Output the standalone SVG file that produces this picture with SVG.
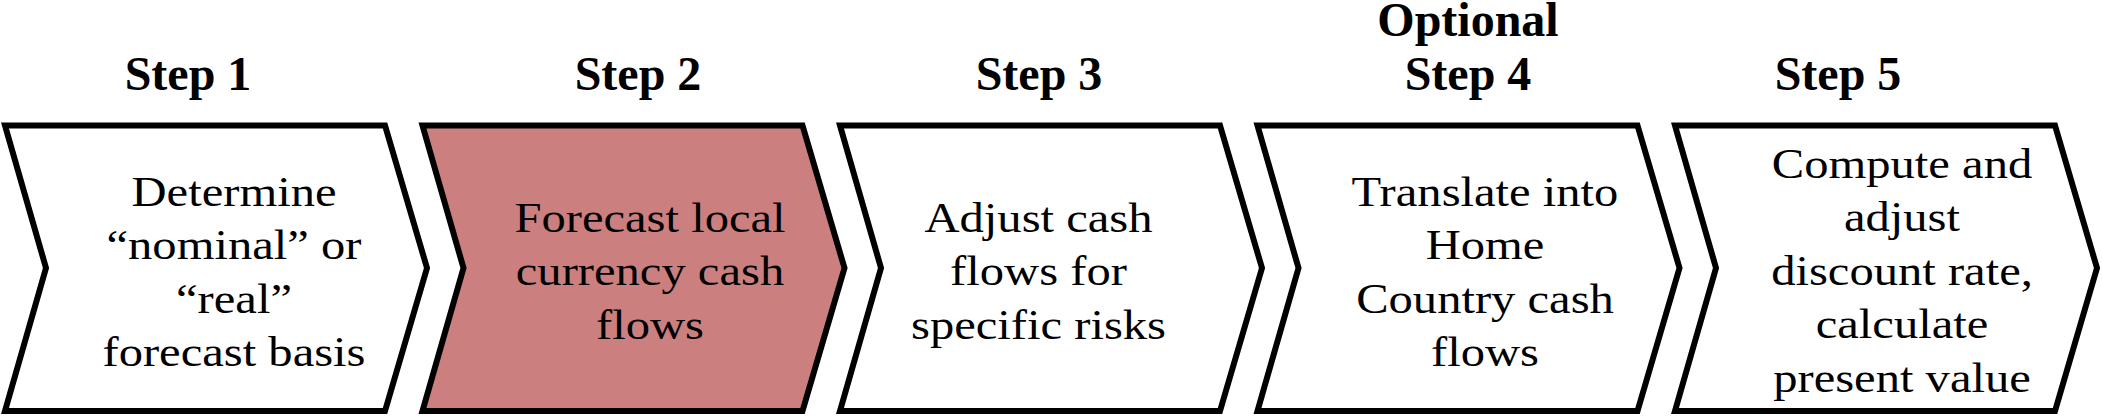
<svg xmlns="http://www.w3.org/2000/svg" width="2102" height="419" viewBox="0 0 2102 419">
<style>
.chev{fill:#ffffff;stroke:#000000;stroke-width:6;stroke-linejoin:miter;stroke-miterlimit:10}
.hl{fill:#cc7f7f}
.title{font-family:"Liberation Serif","Times New Roman",serif;font-weight:bold;font-size:48px;fill:#000;text-anchor:middle}
.body{font-family:"Liberation Serif","Times New Roman",serif;font-size:43px;fill:#000;text-anchor:middle}
</style>
<defs>
<polygon id="chevShape" points="0,125.5 380,125.5 422,268 380,411 0,411 41,268"/>
</defs>
<rect width="2102" height="419" fill="#ffffff"/>
<g id="connectors"></g>
<g id="step1">
<text class="title" x="188" y="89.5">Step 1</text>
<use href="#chevShape" class="chev" x="5"/>
<text class="body" transform="matrix(1.13 0 0 1 234 0)"><tspan x="0" y="206">Determine</tspan><tspan x="0" y="259.5">“nominal” or</tspan><tspan x="0" y="313">“real”</tspan><tspan x="0" y="366.5">forecast basis</tspan></text>
</g>
<g id="step2">
<text class="title" x="638" y="89.5">Step 2</text>
<use href="#chevShape" class="chev hl" x="422.5"/>
<text class="body" transform="matrix(1.13 0 0 1 650 0)"><tspan x="0" y="232">Forecast local</tspan><tspan x="0" y="285.5">currency cash</tspan><tspan x="0" y="339">flows</tspan></text>
</g>
<g id="step3">
<text class="title" x="1039" y="89.5">Step 3</text>
<use href="#chevShape" class="chev" x="840"/>
<text class="body" transform="matrix(1.13 0 0 1 1038.5 0)"><tspan x="0" y="232">Adjust cash</tspan><tspan x="0" y="285.5">flows for</tspan><tspan x="0" y="339">specific risks</tspan></text>
</g>
<g id="step4">
<text class="title" x="1468" y="36">Optional</text>
<text class="title" x="1468" y="89.5">Step 4</text>
<use href="#chevShape" class="chev" x="1257.5"/>
<text class="body" transform="matrix(1.13 0 0 1 1485 0)"><tspan x="0" y="206">Translate into</tspan><tspan x="0" y="259.5">Home</tspan><tspan x="0" y="313">Country cash</tspan><tspan x="0" y="366.5">flows</tspan></text>
</g>
<g id="step5">
<text class="title" x="1838" y="89.5">Step 5</text>
<use href="#chevShape" class="chev" x="1675"/>
<text class="body" transform="matrix(1.13 0 0 1 1902 0)"><tspan x="0" y="178">Compute and</tspan><tspan x="0" y="231.5">adjust</tspan><tspan x="0" y="285">discount rate,</tspan><tspan x="0" y="338.5">calculate</tspan><tspan x="0" y="392">present value</tspan></text>
</g>
</svg>
